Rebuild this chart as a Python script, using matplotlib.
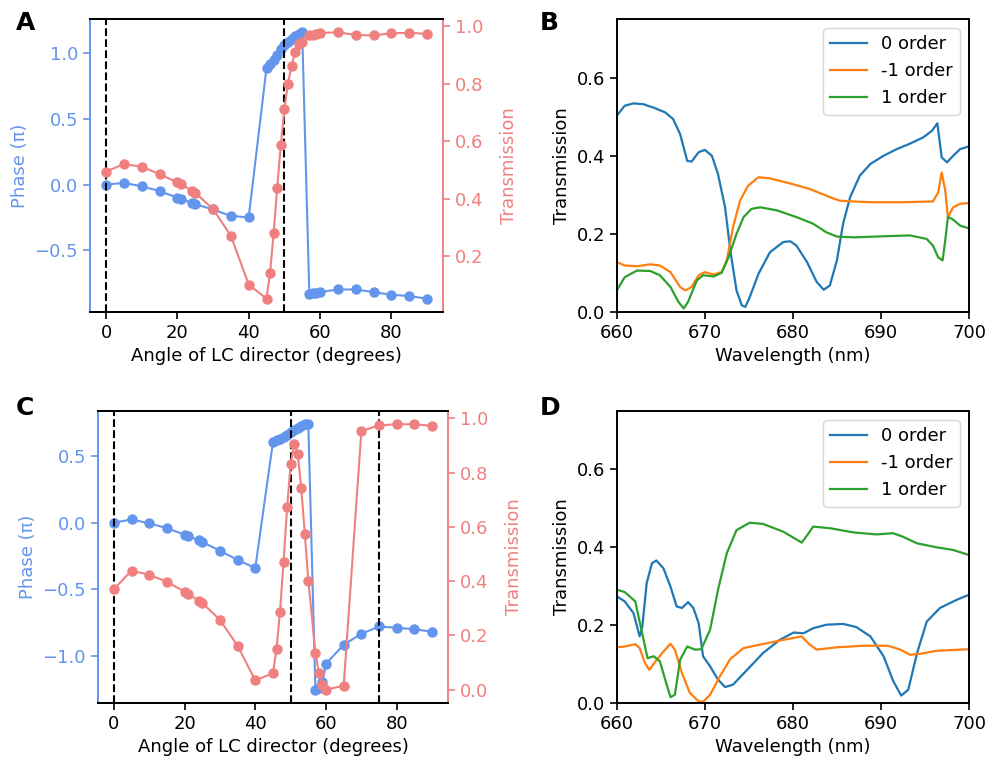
"""
Phase / transmission vs LC director angle and diffraction order spectra
"""

import matplotlib.pyplot as plt

# LC director angles (degrees), shared by panels A and C
angle = [0, 5, 10, 15, 20, 21, 24, 25, 30, 35, 40,
         45, 46, 47, 48, 49, 50, 51, 52, 53, 54, 55,
         57, 58, 59, 60, 65, 70, 75, 80, 85, 90]

# Panel A
phase_a = [0.0, 0.012, -0.013, -0.05, -0.10, -0.11, -0.14, -0.15, -0.19, -0.24, -0.25,
           0.89, 0.92, 0.95, 0.99, 1.03, 1.06, 1.09, 1.11, 1.13, 1.15, 1.16,
           -0.836, -0.83, -0.825, -0.82, -0.80, -0.80, -0.82, -0.84, -0.85, -0.87]
trans_a = [0.494, 0.52, 0.511, 0.485, 0.456, 0.451, 0.427, 0.42, 0.363, 0.27, 0.10,
           0.051, 0.142, 0.281, 0.438, 0.587, 0.712, 0.80, 0.863, 0.91, 0.939, 0.945,
           0.968, 0.971, 0.974, 0.977, 0.979, 0.97, 0.968, 0.976, 0.977, 0.974]

# Panel C
phase_c = [0.0, 0.025, -0.005, -0.04, -0.09, -0.10, -0.13, -0.145, -0.21, -0.28, -0.34,
           0.607, 0.62, 0.63, 0.645, 0.66, 0.68, 0.70, 0.715, 0.73, 0.74, 0.74,
           -1.255, -1.245, -1.2, -1.06, -0.917, -0.835, -0.78, -0.79, -0.80, -0.82]
trans_c = [0.37, 0.439, 0.423, 0.398, 0.361, 0.353, 0.328, 0.32, 0.257, 0.162, 0.034,
           0.061, 0.15, 0.288, 0.472, 0.672, 0.831, 0.904, 0.87, 0.743, 0.574, 0.402,
           0.137, 0.061, 0.018, 0.0, 0.015, 0.953, 0.974, 0.978, 0.978, 0.972]

# Panel B spectra
wl_b0 = [660, 660.9, 661.9, 663, 664.2, 665.5, 666.4, 667.2, 668, 668.5, 669.3, 670, 670.8,
         671.5, 672.3, 672.9, 673.6, 674.2, 674.6, 675.1, 676.1, 677.4, 678.9, 679.7, 680.4,
         681.6, 682.7, 683.5, 684.2, 685, 685.7, 686.5, 687.6, 688.8, 690.3, 691.8, 693.3,
         694.8, 695.8, 696.4, 696.9, 697.5, 698.2, 699, 700]
t_b0 = [0.502, 0.528, 0.534, 0.532, 0.523, 0.511, 0.494, 0.455, 0.387, 0.385, 0.409, 0.415, 0.40,
        0.353, 0.268, 0.157, 0.055, 0.017, 0.013, 0.038, 0.098, 0.153, 0.179, 0.181, 0.17,
        0.128, 0.077, 0.057, 0.068, 0.132, 0.226, 0.294, 0.349, 0.379, 0.40, 0.417, 0.431,
        0.447, 0.464, 0.483, 0.396, 0.383, 0.40, 0.417, 0.424]
wl_bm1 = [660, 660.9, 662.3, 663.8, 664.9, 666.1, 667.2, 667.8, 668.5, 669.3, 670, 671, 671.9,
          672.5, 673.2, 674, 674.9, 676.1, 677.4, 679.7, 681.9, 684.2, 685.3, 686.9, 688.8,
          692.5, 695.9, 696.5, 696.9, 697.3, 697.6, 698.2, 699, 700]
t_bm1 = [0.128, 0.119, 0.117, 0.122, 0.119, 0.102, 0.064, 0.055, 0.064, 0.094, 0.102, 0.096, 0.102,
         0.132, 0.217, 0.285, 0.323, 0.345, 0.342, 0.329, 0.315, 0.294, 0.285, 0.283, 0.281,
         0.281, 0.283, 0.306, 0.357, 0.311, 0.243, 0.268, 0.277, 0.279]
wl_b1 = [660, 660.9, 662.3, 663.8, 664.9, 666.1, 667, 667.6, 668.1, 669.1, 669.8, 671, 671.9,
         672.7, 673.6, 674.4, 675.3, 676.3, 678.2, 680.4, 682.3, 683.8, 685, 686.9, 690.6,
         693.3, 695.2, 695.9, 696.5, 697, 697.3, 697.6, 698.1, 699, 700]
t_b1 = [0.055, 0.089, 0.106, 0.105, 0.094, 0.064, 0.026, 0.009, 0.026, 0.081, 0.094, 0.091, 0.10,
        0.14, 0.20, 0.243, 0.264, 0.268, 0.26, 0.243, 0.226, 0.204, 0.193, 0.191, 0.194,
        0.196, 0.187, 0.17, 0.14, 0.132, 0.183, 0.243, 0.238, 0.221, 0.214]

# Panel D spectra
wl_d0 = [660, 660.9, 661.9, 662.6, 662.9, 663.4, 664, 664.5, 665.3, 666.1, 666.8, 667.4, 668.1,
         668.7, 669.3, 669.8, 670.6, 671.5, 672.3, 673.2, 674.8, 676.6, 678.5, 680.1, 681.2,
         682.3, 683.8, 685.7, 687.2, 688.8, 690.3, 691.4, 692.3, 693.1, 694.1, 695.2, 696.7,
         698.6, 700]
t_d0 = [0.274, 0.261, 0.231, 0.171, 0.195, 0.308, 0.359, 0.366, 0.346, 0.299, 0.248, 0.244, 0.259,
        0.244, 0.205, 0.12, 0.094, 0.06, 0.041, 0.047, 0.085, 0.128, 0.162, 0.181, 0.179,
        0.192, 0.201, 0.203, 0.195, 0.171, 0.12, 0.056, 0.019, 0.034, 0.128, 0.209, 0.244,
        0.265, 0.278]
wl_dm1 = [660, 660.9, 662.1, 662.6, 663.2, 663.7, 664.4, 665.3, 666.1, 666.6, 667.4, 668.3, 669.3,
          669.8, 670.6, 671.7, 672.9, 674.4, 676.3, 678.9, 681, 681.9, 682.7, 685, 688,
          690.8, 692.2, 693.3, 694.4, 696.3, 700]
t_dm1 = [0.143, 0.145, 0.151, 0.141, 0.103, 0.085, 0.107, 0.132, 0.152, 0.137, 0.077, 0.026, 0.004,
         0.003, 0.021, 0.068, 0.113, 0.141, 0.15, 0.162, 0.171, 0.15, 0.137, 0.143, 0.147,
         0.147, 0.137, 0.124, 0.126, 0.134, 0.138]
wl_d1 = [660, 660.9, 662.1, 662.8, 663.5, 664.2, 664.9, 665.5, 666.1, 666.6, 667.2, 668, 668.9,
         669.6, 670.6, 671.5, 672.5, 673.6, 675.1, 676.6, 678.9, 681, 681.5, 682.3, 684.2,
         686.9, 689.5, 691.4, 692.5, 694.1, 696.3, 698.2, 700]
t_d1 = [0.291, 0.285, 0.261, 0.188, 0.115, 0.12, 0.107, 0.06, 0.015, 0.021, 0.111, 0.145, 0.137,
        0.138, 0.188, 0.291, 0.385, 0.444, 0.463, 0.46, 0.44, 0.412, 0.427, 0.453, 0.449,
        0.438, 0.433, 0.436, 0.427, 0.41, 0.40, 0.393, 0.38]

blue = "cornflowerblue"
red = "lightcoral"

plt.rcParams["font.size"] = 13
plt.rcParams["axes.linewidth"] = 1.4
plt.rcParams["xtick.major.size"] = 5
plt.rcParams["ytick.major.size"] = 5
plt.rcParams["xtick.major.width"] = 1.2
plt.rcParams["ytick.major.width"] = 1.2

fig = plt.figure(figsize=(9.89, 7.73), dpi=100)


# Phase (left axis) and transmission (right axis) vs angle
def angle_panel(rect, phase, trans, dashes):
    ax = fig.add_axes(rect)
    for d in dashes:
        ax.axvline(d, color="black", linestyle="--", linewidth=1.5, zorder=3)
    ax.plot(angle, phase, "o-", color=blue, markersize=6.5, linewidth=1.5)
    ax.set_xlabel("Angle of LC director (degrees)")
    ax.set_ylabel("Phase (π)", color=blue)
    ax.tick_params(axis="y", colors=blue)
    ax.spines["left"].set_color(blue)
    ax.spines["right"].set_visible(False)

    ax2 = ax.twinx()
    ax2.plot(angle, trans, "o-", color=red, markersize=6.5, linewidth=1.5)
    ax2.set_ylabel("Transmission", color=red, labelpad=12)
    ax2.tick_params(axis="y", colors=red)
    ax2.spines["right"].set_color(red)
    ax2.spines["left"].set_visible(False)
    ax.set_xticks([0, 20, 40, 60, 80])
    return ax, ax2


# Spectra of the three diffraction orders
def spectrum_panel(rect, series):
    ax = fig.add_axes(rect)
    for wl, t, label in series:
        ax.plot(wl, t, linewidth=1.6, label=label)
    ax.set_xlim(660, 700)
    ax.set_ylim(0, 0.75)
    ax.set_yticks([0.0, 0.2, 0.4, 0.6])
    ax.set_xlabel("Wavelength (nm)")
    ax.set_ylabel("Transmission")
    ax.legend(loc="upper right")
    return ax


angle_panel([0.091, 0.5964, 0.357, 0.379], phase_a, trans_a, [0, 50])
angle_panel([0.099, 0.0906, 0.354, 0.3777], phase_c, trans_c, [0, 50, 75])

spectrum_panel([0.6236, 0.5964, 0.3562, 0.379],
               [(wl_b0, t_b0, "0 order"), (wl_bm1, t_bm1, "-1 order"), (wl_b1, t_b1, "1 order")])
spectrum_panel([0.6236, 0.0906, 0.3562, 0.3777],
               [(wl_d0, t_d0, "0 order"), (wl_dm1, t_dm1, "-1 order"), (wl_d1, t_d1, "1 order")])

# Panel letters
for x, y, letter in [(0.016, 0.970, "A"), (0.546, 0.970, "B"),
                     (0.016, 0.472, "C"), (0.546, 0.472, "D")]:
    fig.text(x, y, letter, fontsize=18, fontweight="bold", ha="left", va="center")

plt.savefig("out.png", dpi=100)
